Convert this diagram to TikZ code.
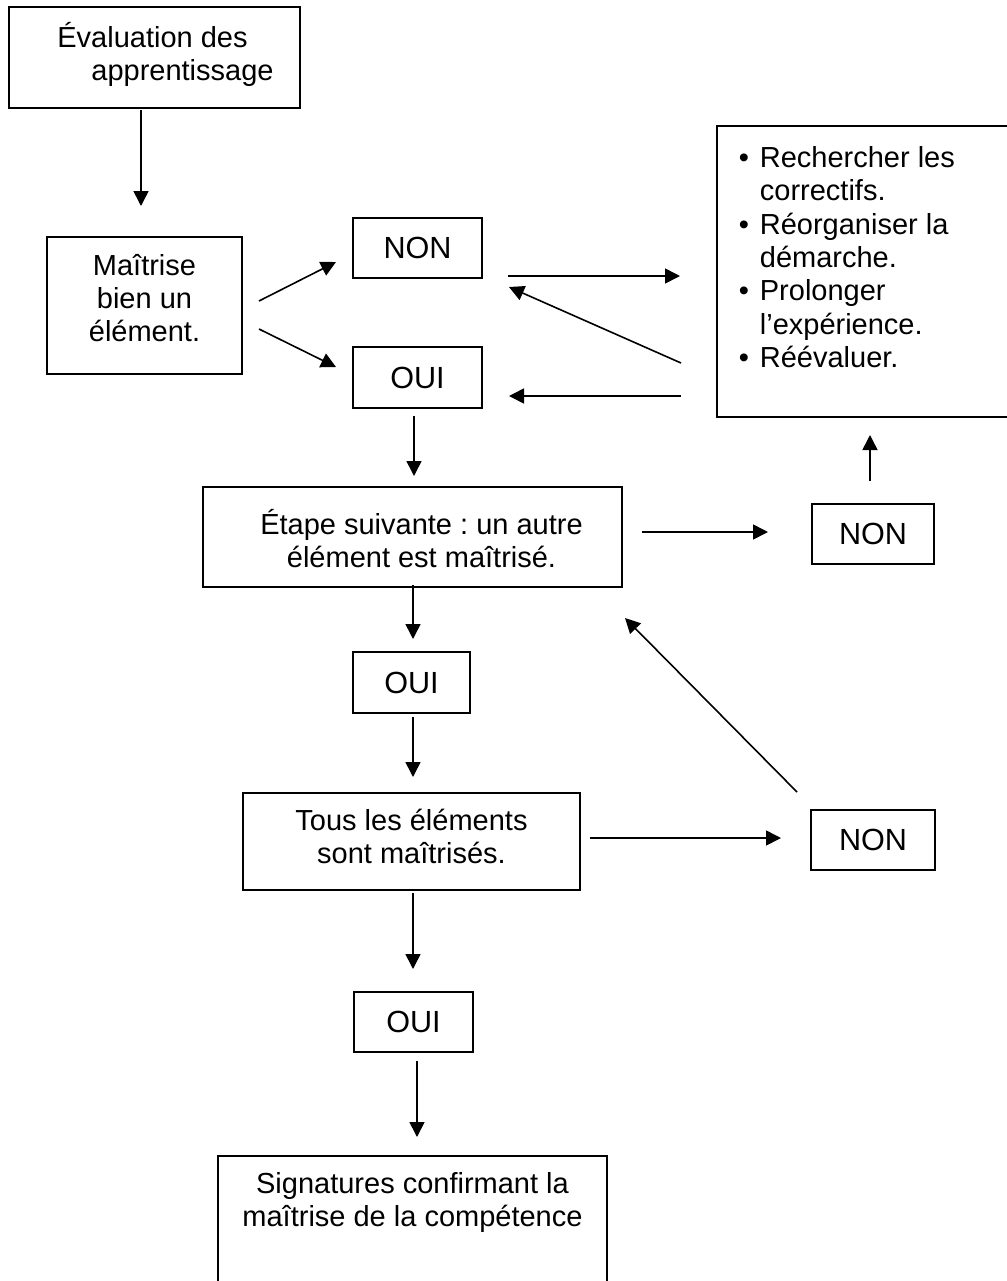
\documentclass[tikz,border=0pt]{standalone}
\usepackage{fontspec}
\setmainfont{Liberation Sans}
\usetikzlibrary{arrows.meta}
\begin{document}
\frenchspacing
\begin{tikzpicture}[x=0.5pt,y=-0.5pt,
  box/.style={draw, line width=1.1pt, rectangle, inner sep=0pt},
  yn/.style={box, font=\fontsize{15.3}{17.5}\selectfont, text height=10.95pt, text depth=0pt},
  txt/.style={inner sep=0pt, font=\fontsize{14.5}{16.65}\selectfont\frenchspacing},
  arr/.style={line width=0.8pt, -{Triangle[length=7.5pt,width=7.5pt]}}]
\clip (0,0) rectangle (1007,1281);
\fill[white] (0,0) rectangle (1007,1281);

% boxes
\node[box, minimum width=145.5pt, minimum height=50.5pt] (A) at (154.5,57.5) {};
\node[box, minimum width=97.5pt, minimum height=68.5pt] (B) at (144.5,305.5) {};
\node[yn, minimum width=64.5pt, minimum height=30pt] (N1) at (417.5,248) {NON};
\node[yn, minimum width=64.5pt, minimum height=30.5pt] (O1) at (417.5,377.5) {OUI};
\node[box, minimum width=147.5pt, minimum height=145.5pt] (L) at (864.5,271.5) {};
\node[box, minimum width=209.5pt, minimum height=50pt] (E) at (412.5,537) {};
\node[yn, minimum width=61pt, minimum height=30pt] (N2) at (873,534) {NON};
\node[yn, minimum width=58.5pt, minimum height=30.5pt] (O2) at (411.5,682.5) {OUI};
\node[box, minimum width=168.5pt, minimum height=48.5pt] (T) at (411.5,841.5) {};
\node[yn, minimum width=62pt, minimum height=30pt] (N3) at (873,840) {NON};
\node[yn, minimum width=59.5pt, minimum height=30pt] (O3) at (413.5,1022) {OUI};
\node[box, minimum width=194.5pt, minimum height=67pt] (S) at (412.5,1223) {};

% texts
\node[txt, anchor=base west] (At) at (57,47) {\begin{tabular}[t]{@{}l@{}}Évaluation des\\\hspace*{17pt}apprentissage\end{tabular}};
\node[txt, anchor=base] (Bt) at (144.5,275) {\begin{tabular}[t]{@{}c@{}}Maîtrise\\bien un\\élément.\end{tabular}};
\node[txt, anchor=base west] (Lt) at (738.5,167.5) {\begin{tabular}[t]{@{}l@{}}\makebox[10.5pt][l]{•}Rechercher les\\\hspace*{10.5pt}correctifs.\\\makebox[10.5pt][l]{•}Réorganiser la\\\hspace*{10.5pt}démarche.\\\makebox[10.5pt][l]{•}Prolonger\\\hspace*{10.5pt}l’expérience.\\\makebox[10.5pt][l]{•}Réévaluer.\end{tabular}};
\node[txt, anchor=base] (Et) at (421.5,534) {\begin{tabular}[t]{@{}c@{}}Étape suivante : un autre\\élément est maîtrisé.\end{tabular}};
\node[txt, anchor=base] (Tt) at (411.5,830) {\begin{tabular}[t]{@{}c@{}}Tous les éléments\\sont maîtrisés.\end{tabular}};
\node[txt, anchor=base] (St) at (412.5,1193) {\begin{tabular}[t]{@{}c@{}}Signatures confirmant la\\maîtrise de la compétence\end{tabular}};

% connector end points
\coordinate (c1a) at (141,110);  \coordinate (c1b) at (141,206);
\coordinate (c2a) at (259,301);  \coordinate (c2b) at (336,262);
\coordinate (c3a) at (259,329);  \coordinate (c3b) at (336,367);
\coordinate (c4a) at (508,276);  \coordinate (c4b) at (680,276);
\coordinate (c5a) at (681,363);  \coordinate (c5b) at (509,287);
\coordinate (c6a) at (681,396);  \coordinate (c6b) at (509,396);
\coordinate (c7a) at (414,416);  \coordinate (c7b) at (414,476);
\coordinate (c8a) at (642,532);  \coordinate (c8b) at (768,532);
\coordinate (c9a) at (870,481);  \coordinate (c9b) at (870,435);
\coordinate (c10a) at (413,585); \coordinate (c10b) at (413,639);
\coordinate (c11a) at (413,717); \coordinate (c11b) at (413,777);
\coordinate (c12a) at (590,838); \coordinate (c12b) at (781,838);
\coordinate (c13a) at (797,792); \coordinate (c13b) at (625,618);
\coordinate (c14a) at (413,893); \coordinate (c14b) at (413,969);
\coordinate (c15a) at (417,1061); \coordinate (c15b) at (417,1137);

\foreach \i in {1,...,15} \draw[arr] (c\i a) -- (c\i b);
\end{tikzpicture}
\end{document}
